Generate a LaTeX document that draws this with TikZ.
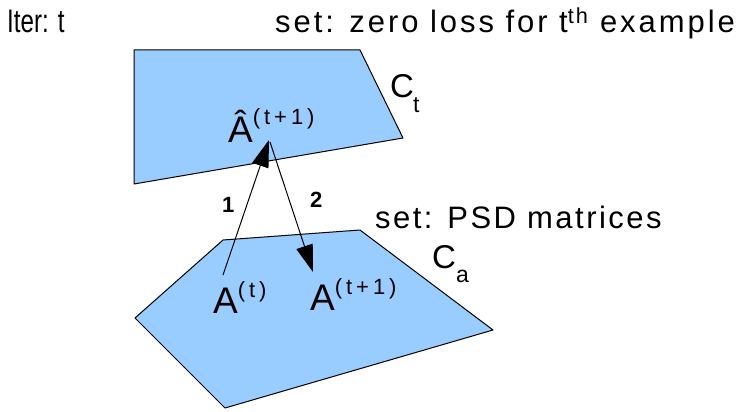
\documentclass[tikz,border=0pt]{standalone}
\usepackage{fontspec}
\setmainfont{Liberation Sans}
\usetikzlibrary{arrows.meta}
\definecolor{sky}{RGB}{153,204,255}
\tikzset{
  >={Triangle[length=27pt,width=17pt]},
  region/.style={draw=black,fill=sky,line width=1pt,line join=round},
  move/.style={->,line width=1pt},
  caption/.style={anchor=base west,inner sep=0pt,font=\fontsize{31}{31}\selectfont},
  setname/.style={anchor=base west,inner sep=0pt,font=\fontsize{33}{33}\selectfont},
  point/.style={anchor=base west,inner sep=0pt,font=\fontsize{37}{37}\selectfont},
  steplbl/.style={anchor=base west,inner sep=0pt,font=\fontsize{22}{22}\selectfont\bfseries},
}
\newcommand{\sups}[2]{\raisebox{#1}{\fontsize{22}{22}\selectfont\addfontfeature{LetterSpace=18}#2}}
\newcommand{\subs}[2]{\raisebox{-#1}{\fontsize{23}{23}\selectfont #2}}

\begin{document}
\begin{tikzpicture}[x=1pt,y=-1pt]
  \useasboundingbox (0,0) rectangle (739,412);
  % the two sets
  \draw[region] (134,50) -- (360,50) -- (403,138) -- (134,184) -- cycle;
  \draw[region] (223,240) -- (360,230) -- (493,330) -- (225,408) -- (135,318) -- cycle;
  % labels
  \node[caption] (iter) at (7,33) {\scalebox{0.78}[1.05]{Iter: t}};
  \node[caption] (settop) at (275,33) {\addfontfeature{LetterSpace=9.5}set: zero loss for t\textsuperscript{th} example};
  \node[caption] (setpsd) at (375,228) {\addfontfeature{LetterSpace=8}set: PSD matrices};
  \node[setname] (ct) at (390,97) {C\kern-1pt\subs{15pt}{t}};
  \node[setname] (ca) at (432,268) {C\subs{14pt}{a}};
  \node[point] (ahat) at (228,142) {\^A\sups{18pt}{(t+1)}};
  \node[point] (aold) at (213,313) {A\sups{16pt}{(t)}};
  \node[point] (anew) at (310,310) {A\sups{16pt}{(t+1)}};
  % steps
  \coordinate (from1) at (223,275);
  \coordinate (to1) at (269,140);
  \coordinate (from2) at (270,142);
  \coordinate (to2) at (313,272);
  \draw[move] (from1) -- (to1);
  \draw[move] (from2) -- (to2);
  \node[steplbl] (one) at (222,212) {1};
  \node[steplbl] (two) at (310,207) {2};
\end{tikzpicture}
\end{document}
